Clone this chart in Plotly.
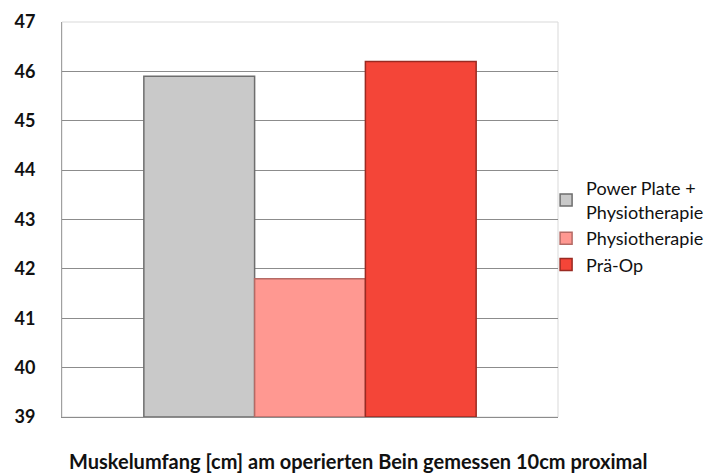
import plotly.graph_objects as go

category = ["Muskelumfang"]
series_names = ["Power Plate +<br>Physiotherapie", "Physiotherapie", "Prä-Op"]
series_values = [45.9, 41.8, 46.2]
series_colors = ["#c9c9c9", "#ff9891", "#f44538"]
series_edges = ["#6e6e6e", "#b56a65", "#9a2a22"]
y_ticks = [39, 40, 41, 42, 43, 44, 45, 46, 47]
x_title = "Muskelumfang [cm] am operierten Bein gemessen 10cm proximal"

fig = go.Figure()
for name, val, col, edge in zip(series_names, series_values, series_colors, series_edges):
    fig.add_trace(go.Bar(
        x=category, y=[val - y_ticks[0]], base=y_ticks[0], name=name,
        marker=dict(color=col, line=dict(color=edge, width=1.5)),
    ))

fig.update_layout(
    width=717, height=474,
    margin=dict(l=62, r=159, t=22, b=57, autoexpand=False),
    paper_bgcolor="white", plot_bgcolor="white",
    barmode="group", bargap=0.33, bargroupgap=0,
    font=dict(family="Lato, Open Sans, sans-serif", color="#111111"),
    showlegend=True,
    legend=dict(x=0.976, y=0.625, xanchor="left", yanchor="top",
                font=dict(size=18, color="#111111"), tracegroupgap=13,
                bgcolor="rgba(0,0,0,0)", itemwidth=30, traceorder="normal"),
    xaxis=dict(showticklabels=False, showgrid=False, zeroline=False,
               showline=True, linecolor="#8c8c8c", linewidth=1, mirror=False),
    yaxis=dict(range=[y_ticks[0], y_ticks[-1]], tickvals=y_ticks,
               ticktext=[f"<b>{t}</b>" for t in y_ticks],
               tickfont=dict(size=18, color="#111111"), ticklabelstandoff=22,
               showgrid=True, gridcolor="#8c8c8c", gridwidth=1,
               showline=True, linecolor="#a0a0a0", linewidth=1, zeroline=False),
    shapes=[dict(type="rect", xref="paper", yref="paper", x0=0, x1=1, y0=0, y1=1,
                 line=dict(color="#d9d9d9", width=1), layer="below")],
    annotations=[dict(text=f"<b>{x_title}</b>", xref="paper", yref="paper",
                      x=0.597, y=-0.112, xanchor="center", yanchor="middle",
                      showarrow=False, font=dict(size=20, color="#111111"))],
)

fig.write_html("out.html", config={"displayModeBar": False},
               post_script="document.body.style.margin='0';document.body.style.overflow='hidden';")
